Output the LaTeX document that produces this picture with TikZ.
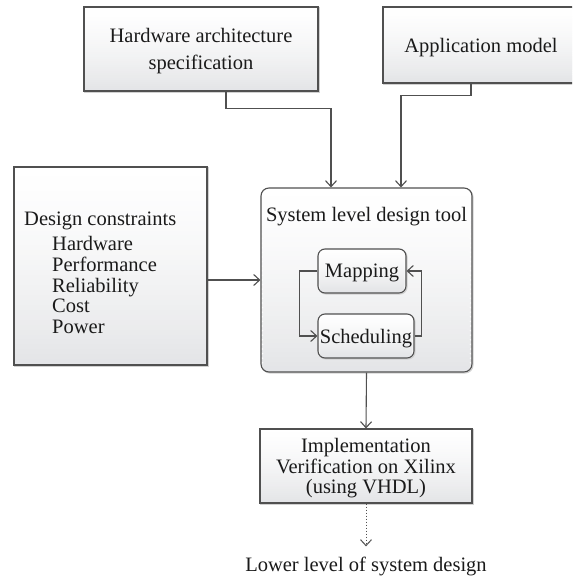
\documentclass[tikz,border=0pt]{standalone}
\usepackage{fontspec}
\setmainfont{Liberation Serif}
\usetikzlibrary{arrows.meta,calc}
\definecolor{edge}{HTML}{505050}
\definecolor{shadebot}{HTML}{E4E5E7}
\definecolor{ink}{HTML}{1A1A1A}
% vertical white-to-grey gradient built from thin bands, clipped to the node outline
\tikzset{
  bandfill/.style={
    fill=white,
    path picture={
      \foreach \i in {0,...,39}{
        \pgfmathsetmacro\mix{100*((\i+0.5)/40)^1.4}
        \fill[shadebot!\mix!white]
          ($(path picture bounding box.north west)!{\i/40}!(path picture bounding box.south west)+(-2pt,0.8pt)$)
          rectangle
          ($(path picture bounding box.north east)!{(\i+1)/40}!(path picture bounding box.south east)+(2pt,-0.8pt)$);
      }
    }
  }
}
\begin{document}
\begin{tikzpicture}[x=1pt,y=-1pt,
  txt/.style={font=\fontsize{20.5}{20.8}\selectfont, text=ink},
  box/.style={txt, draw=edge, line width=1.1pt, bandfill,
    preaction={draw=black!18, line width=1.1pt, transform canvas={shift={(1pt,-1pt)}}},
    align=center, inner sep=0pt, text depth=0pt},
  rbox/.style={box, rounded corners=8pt},
  conn/.style={draw=edge, line width=1.1pt, -{Straight Barb[length=6pt,width=11pt]}},
  dots/.style={draw=edge, line width=1pt, dotted, -{Straight Barb[length=6pt,width=11pt]}}]

\clip (0,0) rectangle (572,577);
\fill[white] (0,0) rectangle (572,577);

% input boxes
\node[box, minimum width=234pt, minimum height=84pt] (hw) at (201,49)
  {Hardware architecture\\[6.5pt]specification};
\node[box, minimum width=196pt, minimum height=76pt] (app) at (481,45)
  {Application model};

% design constraints
\node[box, minimum width=193pt, minimum height=198pt] (dc) at (110.5,266) {};
\node[txt, anchor=north west, align=left, inner sep=0pt] (dctext) at (24,212)
  {Design constraints\\[4pt]
   \hspace*{28pt}Hardware\\
   \hspace*{28pt}Performance\\
   \hspace*{28pt}Reliability\\
   \hspace*{28pt}Cost\\
   \hspace*{28pt}Power};

% system level design tool
\node[rbox, minimum width=211pt, minimum height=184pt] (sys) at (366.5,280) {};
\node[txt, anchor=base, inner sep=0pt] (systitle) at (366.5,221.5) {System level design tool};
\node[rbox, rounded corners=7pt, minimum width=88pt, minimum height=44pt] (map) at (362,271) {Mapping};
\node[rbox, rounded corners=7pt, minimum width=96pt, minimum height=44pt] (sch) at (366,336) {Scheduling};

% implementation
\node[box, minimum width=212pt, minimum height=74pt] (impl) at (366,466)
  {Implementation\\Verification on Xilinx\\(using VHDL)};
\node[txt, anchor=base, inner sep=0pt] (low) at (366,571) {Lower level of system design};

% connectors
\draw[conn] ([xshift=25pt]hw.south) -- ++(0,17) -| ([xshift=-35.5pt]sys.north);
\draw[conn] ([xshift=-10pt]app.south) -- ++(0,12) -| ([xshift=34.5pt]sys.north);
\draw[conn] (dc.east |- sys.west) -- (sys.west);
\draw[conn] (map.west) -- ++(-18,0) |- (sch.west);
\draw[conn] (sch.east) -- ++(7,0) |- (map.east);
\draw[conn] (sys.south) -- (impl.north);
\draw[dots] (impl.south) -- ([yshift=10pt]low.north);
\end{tikzpicture}
\end{document}
